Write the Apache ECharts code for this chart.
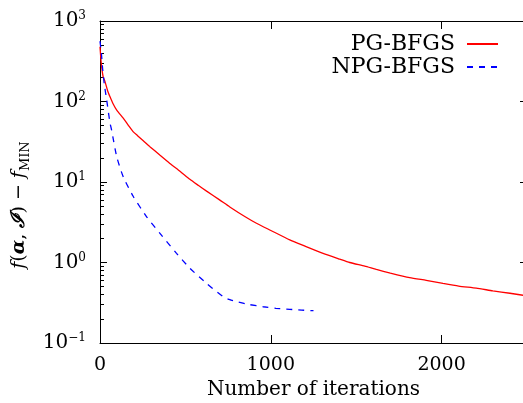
<!DOCTYPE html>
<html><head><meta charset="utf-8">
<script src="https://cdn.jsdelivr.net/npm/echarts@6/dist/echarts.min.js"></script>
<style>html,body{margin:0;padding:0;background:#fff;} #c{width:523px;height:403px;}</style>
</head><body><div id="c"></div>
<script>
const pgIter = [0, 5, 10, 19, 29, 45, 58, 75, 98, 136, 165, 195, 220, 250, 292, 350, 409, 470, 526, 575, 624, 700, 760, 850, 916, 1000, 1111, 1200, 1306, 1404, 1462, 1550, 1618, 1700, 1813, 1910, 2008, 2100, 2203, 2300, 2400, 2500];
const pgVal = [480, 340, 265, 200, 178, 135, 115, 95, 78, 62, 51, 42, 37.6, 33, 27.5, 21.6, 17, 13.5, 10.8, 9.1, 7.7, 6.0, 4.9, 3.7, 3.07, 2.5, 1.91, 1.6, 1.30, 1.10, 1.0, 0.90, 0.82, 0.74, 0.65, 0.60, 0.55, 0.51, 0.48, 0.445, 0.415, 0.385];
const npgIter = [0, 8, 15, 25, 39, 58, 68, 98, 136, 195, 273, 351, 448, 526, 624, 721, 760, 799, 875, 955, 1030, 1111, 1180, 1250];
const npgVal = [560, 400, 260, 165, 105, 55, 44, 20.6, 11.6, 6.6, 3.7, 2.3, 1.30, 0.85, 0.55, 0.376, 0.345, 0.326, 0.30, 0.282, 0.27, 0.262, 0.256, 0.252];
const seriesNames = ['PG-BFGS', 'NPG-BFGS'];
const xTicks = [0, 1000, 2000];
const yDecades = [0.1, 1, 10, 100, 1000];
const yMinor = [0.2,0.3,0.4,0.5,0.6,0.7,0.8,0.9, 2,3,4,5,6,7,8,9, 20,30,40,50,60,70,80,90, 200,300,400,500,600,700,800,900];
const xName = 'Number of iterations';

const FONT = 'DejaVu Serif';
const BLACK = '#000';
const chart = echarts.init(document.getElementById('c'), null, {renderer: 'canvas'});
const zip = (a, b) => a.map((x, i) => [x, b[i]]);
const supLabel = v => {
  const e = Math.round(Math.log10(v));
  return '{b|10}{s|' + (e < 0 ? '\u2212' + (-e) : e) + '}';
};
const lineStyle = {color: BLACK, width: 1};
const yBase = {type: 'log', logBase: 10, min: 0.1, max: 1000, splitLine: {show: false}, axisLine: {show: false, onZero: false}};
const xBase = {type: 'value', min: 0, max: 2500, interval: 1000, splitLine: {show: false}};

chart.setOption({
  animation: false,
  backgroundColor: '#fff',
  grid: {left: 100, top: 21, width: 427, height: 322, containLabel: false, outerBoundsMode: 'none'},
  legend: {
    orient: 'vertical', right: 19, top: 28, align: 'right',
    itemWidth: 31, itemHeight: 12, itemGap: 1,
    itemStyle: {opacity: 0, borderWidth: 0},
    textStyle: {fontFamily: FONT, fontSize: 22, color: BLACK, padding: [0, 7, 0, 0]},
    data: seriesNames
  },
  xAxis: [
    Object.assign({}, xBase, {
      position: 'bottom',
      axisLine: {show: true, onZero: false, lineStyle},
      axisTick: {show: true, inside: true, length: 8, lineStyle, customValues: xTicks},
      axisLabel: {margin: 13, fontFamily: FONT, fontSize: 19, color: BLACK, customValues: xTicks, formatter: v => String(v)},
      name: xName, nameLocation: 'middle', nameGap: 35,
      nameTextStyle: {fontFamily: FONT, fontSize: 20, color: BLACK}
    }),
    Object.assign({}, xBase, {
      position: 'top',
      axisLine: {show: true, onZero: false, lineStyle},
      axisTick: {show: true, inside: true, length: 8, lineStyle, customValues: xTicks},
      axisLabel: {show: false}
    })
  ],
  yAxis: [
    Object.assign({}, yBase, {
      position: 'left',
      axisLine: {show: true, onZero: false, lineStyle},
      axisTick: {show: true, inside: true, length: 7, lineStyle, customValues: yDecades},
      axisLabel: {margin: 14, customValues: yDecades, formatter: supLabel, color: BLACK,
        rich: {
          b: {fontFamily: FONT, fontSize: 20, lineHeight: 22, color: BLACK},
          s: {fontFamily: FONT, fontSize: 12, lineHeight: 12, verticalAlign: 'top', color: BLACK}
        }},
      name: '{i|f}({ba|\u03B1}, {bi|\u2110}) \u2212 {i|f}{sub|MIN}',
      nameLocation: 'middle', nameRotate: 90, nameGap: 62,
      nameTextStyle: {fontFamily: FONT, fontSize: 19, color: BLACK, padding: [0, 46, 0, 0],
        rich: {
          i: {fontFamily: FONT, fontStyle: 'italic', fontSize: 19, lineHeight: 26, color: BLACK},
          ba: {fontFamily: FONT, fontWeight: 'bold', fontStyle: 'italic', fontSize: 19, lineHeight: 26, color: BLACK},
          bi: {fontFamily: FONT, fontWeight: 'bold', fontStyle: 'italic', fontSize: 19, lineHeight: 26, color: BLACK},
          sub: {fontFamily: FONT, fontSize: 13, lineHeight: 13, verticalAlign: 'bottom', color: BLACK}
        }}
    }),
    Object.assign({}, yBase, {
      position: 'left',
      axisTick: {show: true, inside: true, length: 4, lineStyle, customValues: yMinor},
      axisLabel: {show: false}
    }),
    Object.assign({}, yBase, {
      position: 'right',
      axisLine: {show: true, onZero: false, lineStyle},
      axisTick: {show: true, inside: true, length: 7, lineStyle, customValues: yDecades},
      axisLabel: {show: false}
    }),
    Object.assign({}, yBase, {
      position: 'right',
      axisTick: {show: true, inside: true, length: 4, lineStyle, customValues: yMinor},
      axisLabel: {show: false}
    })
  ],
  series: [
    {name: seriesNames[0], type: 'line', xAxisIndex: 0, yAxisIndex: 0, data: zip(pgIter, pgVal),
     smooth: 0.2,
     symbol: 'none', showSymbol: false, lineStyle: {color: '#ff0000', width: 1.3}, itemStyle: {color: '#ff0000'}},
    {name: seriesNames[1], type: 'line', xAxisIndex: 0, yAxisIndex: 0, data: zip(npgIter, npgVal),
     smooth: 0.2,
     symbol: 'none', showSymbol: false, lineStyle: {color: '#0000ff', width: 1.3, type: [6, 6]}, itemStyle: {color: '#0000ff'}}
  ]
});
</script></body></html>
